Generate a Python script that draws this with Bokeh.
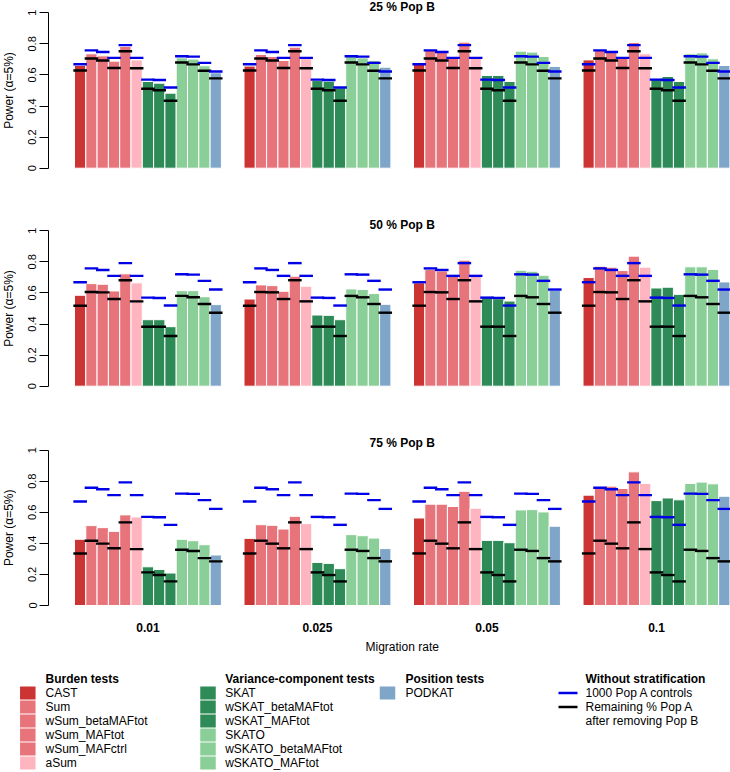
import math
from bokeh.plotting import figure
from bokeh.layouts import column, row
from bokeh.models import Range1d, FixedTicker, ColumnDataSource
from bokeh.embed import file_html
from bokeh.resources import INLINE
from bokeh.core.properties import value

# ---------------- data ----------------
tests = ["CAST", "Sum", "wSum_betaMAFtot", "wSum_MAFtot", "wSum_MAFctrl", "aSum",
         "SKAT", "wSKAT_betaMAFtot", "wSKAT_MAFtot", "SKATO", "wSKATO_betaMAFtot",
         "wSKATO_MAFtot", "PODKAT"]
test_colors = ["#CC3333", "#E7747A", "#E7747A", "#E7747A", "#E7747A", "#FFB5C0",
               "#2E8B57", "#2E8B57", "#2E8B57", "#8ACE98", "#8ACE98", "#8ACE98",
               "#7FA6C9"]
groups = ["0.01", "0.025", "0.05", "0.1"]
panel_titles = ["25 % Pop B", "50 % Pop B", "75 % Pop B"]

# 1000 Pop A controls (without stratification)
blue_1000_popA = [0.669, 0.758, 0.748, 0.710, 0.792, 0.710, 0.570, 0.568, 0.519, 0.720, 0.718, 0.678, 0.622]
# Remaining % Pop A after removing Pop B
black_remaining_25 = [0.629, 0.706, 0.693, 0.645, 0.753, 0.643, 0.511, 0.502, 0.434, 0.680, 0.668, 0.627, 0.578]
black_remaining_50 = [0.518, 0.606, 0.604, 0.561, 0.682, 0.546, 0.383, 0.383, 0.323, 0.581, 0.572, 0.529, 0.473]
black_remaining_75 = [0.335, 0.417, 0.398, 0.368, 0.535, 0.363, 0.213, 0.196, 0.155, 0.359, 0.351, 0.305, 0.284]

# Power, 25 % Pop B
pb25_m0010 = [0.661, 0.736, 0.723, 0.689, 0.783, 0.697, 0.558, 0.547, 0.483, 0.710, 0.702, 0.659, 0.614]
pb25_m0025 = [0.657, 0.732, 0.719, 0.693, 0.779, 0.705, 0.564, 0.560, 0.517, 0.719, 0.710, 0.693, 0.650]
pb25_m0050 = [0.672, 0.762, 0.753, 0.710, 0.811, 0.710, 0.597, 0.597, 0.558, 0.753, 0.747, 0.719, 0.655]
pb25_m0100 = [0.697, 0.762, 0.753, 0.710, 0.809, 0.736, 0.575, 0.590, 0.558, 0.736, 0.742, 0.704, 0.661]
# Power, 50 % Pop B
pb50_m0010 = [0.585, 0.660, 0.656, 0.613, 0.723, 0.665, 0.428, 0.428, 0.383, 0.615, 0.615, 0.576, 0.525]
pb50_m0025 = [0.561, 0.652, 0.647, 0.611, 0.708, 0.643, 0.458, 0.456, 0.428, 0.626, 0.622, 0.596, 0.527]
pb50_m0050 = [0.665, 0.751, 0.742, 0.710, 0.811, 0.708, 0.570, 0.563, 0.548, 0.746, 0.740, 0.714, 0.617]
pb50_m0100 = [0.699, 0.772, 0.766, 0.744, 0.837, 0.766, 0.632, 0.637, 0.591, 0.768, 0.768, 0.751, 0.671]
# Power, 75 % Pop B
pb75_m0010 = [0.426, 0.514, 0.501, 0.477, 0.583, 0.570, 0.249, 0.232, 0.209, 0.426, 0.417, 0.391, 0.325]
pb75_m0025 = [0.432, 0.520, 0.516, 0.492, 0.574, 0.527, 0.277, 0.271, 0.237, 0.456, 0.449, 0.434, 0.366]
pb75_m0050 = [0.563, 0.652, 0.652, 0.637, 0.735, 0.626, 0.419, 0.419, 0.404, 0.615, 0.617, 0.602, 0.510]
pb75_m0100 = [0.710, 0.763, 0.768, 0.753, 0.860, 0.785, 0.675, 0.692, 0.680, 0.785, 0.794, 0.783, 0.703]

panels = [
    ([pb25_m0010, pb25_m0025, pb25_m0050, pb25_m0100], black_remaining_25),
    ([pb50_m0010, pb50_m0025, pb50_m0050, pb50_m0100], black_remaining_50),
    ([pb75_m0010, pb75_m0025, pb75_m0050, pb75_m0100], black_remaining_75),
]

# ---------------- layout ----------------
FONT = "Liberation Sans"
W = 730
LABW = 16          # width of the strip that holds the rotated y-axis title
LEFT = 48 - LABW   # border left of the frame inside the panel figure
XR = (-0.3, 60.05)
KY = 155.4  # px per unit power
# (figure height, y of value 0 measured from figure top, title y in data units)
panel_geom = [(195, 167.7, 1.0405), (220, 190.7, 1.0405), (240, 190.0, 1.0425)]
N = len(tests)
GAP = 2
group_step = N + GAP
title_x = 31.0

rows = []
for k, ((series, black), (h, c0, ty)) in enumerate(zip(panels, panel_geom)):
    y_end = c0 / KY
    y_start = -(h - c0) / KY
    yr = Range1d(y_start, y_end)
    p = figure(width=W - LABW, height=h, x_range=Range1d(*XR), y_range=yr,
               x_axis_type=None, output_backend="svg", toolbar_location=None,
               min_border_left=LEFT, min_border_right=0, min_border_top=0,
               min_border_bottom=0, title=None)
    p.grid.visible = False
    p.outline_line_color = None
    p.background_fill_color = "white"

    xs, tops, cols, bl, bk = [], [], [], [], []
    for g, vals in enumerate(series):
        for i, v in enumerate(vals):
            xs.append(GAP + g * group_step + i + 0.5)
            tops.append(v)
            cols.append(test_colors[i])
            bl.append(blue_1000_popA[i])
            bk.append(black[i])
    src = ColumnDataSource(dict(x=xs, top=tops, color=cols, blue=bl, black=bk,
                                x0=[x - 0.6 for x in xs], x1=[x + 0.6 for x in xs]))
    p.vbar(x="x", top="top", bottom=0, width=1.0, fill_color="color",
           line_color="white", line_width=1, source=src)
    p.segment(x0="x0", x1="x1", y0="black", y1="black", line_color="black",
              line_width=2.4, source=src)
    p.segment(x0="x0", x1="x1", y0="blue", y1="blue", line_color="#0000E6",
              line_width=2.4, source=src)

    p.text(x=[title_x], y=[ty], text=[panel_titles[k]], text_align="center",
           text_baseline="middle", text_font=value(FONT), text_font_size="12px",
           text_font_style="bold", text_color="black")

    ax = p.yaxis[0]
    ax.ticker = FixedTicker(ticks=[0, 0.2, 0.4, 0.6, 0.8, 1.0])
    ax.major_label_overrides = {0: "0", 0.2: "0.2", 0.4: "0.4", 0.6: "0.6", 0.8: "0.8", 1: "1"}
    ax.bounds = (0, 1)
    ax.major_label_orientation = "vertical"
    ax.minor_tick_line_color = None
    ax.major_tick_in = 0
    ax.major_tick_out = 9
    ax.major_label_standoff = 3
    ax.major_label_text_font = FONT
    ax.major_label_text_font_size = "11px"
    ax.major_label_text_color = "black"
    ax.axis_line_color = "black"
    ax.major_tick_line_color = "black"

    if k == 2:
        gx = [GAP + g * group_step + N / 2 for g in range(len(groups))]
        p.text(x=gx, y=[-0.1396] * len(groups), text=groups, text_align="center",
               text_baseline="middle", text_font=value(FONT), text_font_size="12px",
               text_font_style="bold", text_color="black")
        p.text(x=[title_x], y=[-0.264], text=["Migration rate"], text_align="center",
               text_baseline="middle", text_font=value(FONT), text_font_size="12px",
               text_color="black")

    # strip with the y-axis title
    lab = figure(width=LABW, height=h, x_range=Range1d(0, LABW), y_range=yr,
                 x_axis_type=None, y_axis_type=None, output_backend="svg",
                 toolbar_location=None, min_border_left=0, min_border_right=0,
                 min_border_top=0, min_border_bottom=0, title=None)
    lab.grid.visible = False
    lab.outline_line_color = None
    lab.text(x=[8.5], y=[0.5], text=["Power (α=5%)"], angle=math.pi / 2,
             text_align="center", text_baseline="middle", text_font=value(FONT),
             text_font_size="12px", text_color="black")
    rows.append(row(lab, p, spacing=0))

# ---------------- legend (pixel coordinates) ----------------
top0 = sum(g[0] for g in panel_geom)
LH = 772 - top0
leg = figure(width=W, height=LH, x_range=Range1d(0, W), y_range=Range1d(top0 + LH, top0),
             x_axis_type=None, y_axis_type=None, output_backend="svg",
             toolbar_location=None, min_border_left=0, min_border_right=0,
             min_border_top=0, min_border_bottom=0, title=None)
leg.grid.visible = False
leg.outline_line_color = None

ty0 = 678.5
dy = 14.0
columns = [
    ("Burden tests", list(range(0, 6)), 27.3, 45),
    ("Variance-component tests", list(range(6, 12)), 207.5, 224.7),
    ("Position tests", [12], 387.0, 405),
]
for title, idxs, sqx, tx in columns:
    leg.text(x=[tx], y=[ty0], text=[title], text_align="left", text_baseline="middle",
             text_font=value(FONT), text_font_size="12px", text_font_style="bold",
             text_color="black")
    rows_y = [ty0 + dy * (r + 1) for r in range(len(idxs))]
    leg.rect(x=[sqx] * len(idxs), y=rows_y, width=15.5, height=13,
             fill_color=[test_colors[i] for i in idxs], line_color=None)
    leg.text(x=[tx] * len(idxs), y=rows_y, text=[tests[i] for i in idxs],
             text_align="left", text_baseline="middle", text_font=value(FONT),
             text_font_size="12px", text_color="black")

leg.text(x=[585], y=[ty0], text=["Without stratification"], text_align="left",
         text_baseline="middle", text_font=value(FONT), text_font_size="12px",
         text_font_style="bold", text_color="black")
leg.segment(x0=[558, 558], x1=[577, 577], y0=[ty0 + dy, ty0 + 2 * dy],
            y1=[ty0 + dy, ty0 + 2 * dy], line_color=["#0000E6", "black"], line_width=2.4)
leg.text(x=[585] * 3, y=[ty0 + dy, ty0 + 2 * dy, ty0 + 3 * dy],
         text=["1000 Pop A controls", "Remaining % Pop A", "after removing Pop B"],
         text_align="left", text_baseline="middle", text_font=value(FONT),
         text_font_size="12px", text_color="black")

layout = column(*rows, leg, spacing=0)
open("out.html", "w").write(file_html(layout, INLINE))
